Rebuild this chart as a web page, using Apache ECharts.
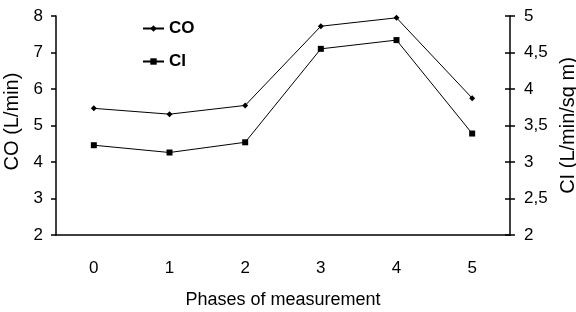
<!DOCTYPE html>
<html>
<head>
<meta charset="utf-8">
<script src="https://cdn.jsdelivr.net/npm/echarts@6/dist/echarts.min.js"></script>
<style>
  html, body { margin: 0; padding: 0; background: #fff; }
  #main { width: 576px; height: 312px; }
</style>
</head>
<body>
<div id="main"></div>
<script>
  // phases on the x axis
  var phases = ['0', '1', '2', '3', '4', '5'];
  // cardiac output, left axis
  var coValues = [5.47, 5.31, 5.55, 7.72, 7.95, 5.75];
  // cardiac index, right axis
  var ciValues = [3.23, 3.13, 3.27, 4.55, 4.67, 3.39];

  var font = '"Liberation Sans", Arial, sans-serif';
  var black = '#000';

  var chart = echarts.init(document.getElementById('main'));
  chart.setOption({
    backgroundColor: '#fff',
    animation: false,
    grid: { left: 56, right: 66, top: 16, bottom: 77, outerBoundsMode: 'none', containLabel: false },
    legend: {
      orient: 'vertical',
      left: 137,
      top: 15,
      itemWidth: 21,
      itemHeight: 8,
      itemGap: 16,
      textStyle: { fontFamily: font, fontSize: 17, fontWeight: 'bold', color: black },
      data: ['CO', 'CI']
    },
    xAxis: {
      type: 'category',
      data: phases,
      boundaryGap: true,
      name: 'Phases of measurement',
      nameLocation: 'middle',
      nameGap: 56,
      nameTextStyle: { fontFamily: font, fontSize: 18, color: black },
      axisLine: { lineStyle: { color: black, width: 1.5 } },
      axisTick: { length: 5, lineStyle: { color: black, width: 1.5 } },
      axisLabel: { margin: 25, fontFamily: font, fontSize: 17, color: black },
      splitLine: { show: false }
    },
    yAxis: [
      {
        type: 'value',
        min: 2, max: 8, interval: 1,
        name: 'CO (L/min)',
        nameLocation: 'middle',
        nameGap: 27,
        nameTextStyle: { fontFamily: font, fontSize: 20, color: black, padding: [0, 0, 0, 8] },
        axisLine: { show: true, lineStyle: { color: black, width: 1.5 } },
        axisTick: { show: true, length: 5, lineStyle: { color: black, width: 1.5 } },
        axisLabel: { margin: 13, fontFamily: font, fontSize: 17, color: black },
        splitLine: { show: false }
      },
      {
        type: 'value',
        position: 'right',
        min: 2, max: 5, interval: 0.5,
        name: 'CI (L/min/sq m)',
        nameLocation: 'middle',
        nameGap: 39,
        nameTextStyle: { fontFamily: font, fontSize: 20, color: black },
        axisLine: { show: true, lineStyle: { color: black, width: 1.5 } },
        axisTick: { show: true, length: 5, lineStyle: { color: black, width: 1.5 } },
        axisLabel: {
          margin: 14, fontFamily: font, fontSize: 17, color: black,
          formatter: function (v) { return String(v).replace('.', ','); }
        },
        splitLine: { show: false }
      },
      {
        // inner half of the crossing ticks on the right axis
        type: 'value',
        position: 'right',
        min: 2, max: 5, interval: 0.5,
        axisLine: { show: false },
        axisTick: { show: true, inside: true, length: 5, lineStyle: { color: black, width: 1.5 } },
        axisLabel: { show: false },
        splitLine: { show: false }
      }
    ],
    series: [
      {
        name: 'CO',
        type: 'line',
        yAxisIndex: 0,
        data: coValues,
        symbol: 'diamond',
        symbolSize: 6,
        lineStyle: { color: black, width: 1 },
        itemStyle: { color: black }
      },
      {
        name: 'CI',
        type: 'line',
        yAxisIndex: 1,
        data: ciValues,
        symbol: 'rect',
        symbolSize: 6,
        lineStyle: { color: black, width: 1 },
        itemStyle: { color: black }
      }
    ]
  });
</script>
</body>
</html>
